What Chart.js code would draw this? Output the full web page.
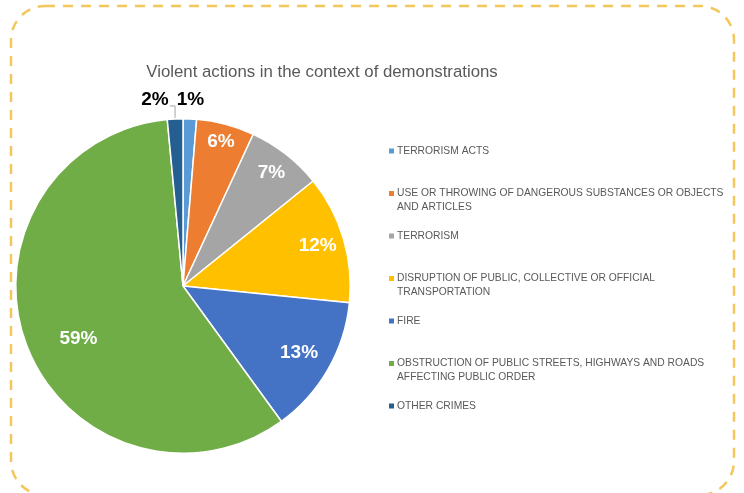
<!DOCTYPE html>
<html>
<head>
<meta charset="utf-8">
<script src="https://cdn.jsdelivr.net/npm/chart.js@4.4.0/dist/chart.umd.min.js"></script>
<style>
  body { margin: 0; background: #fff; }
  #wrap { width: 744px; height: 493px; }
</style>
</head>
<body>
<div id="wrap"><canvas id="myChart" width="744" height="493"></canvas></div>
<script>
const chartTitle = 'Violent actions in the context of demonstrations';
const categories = [
  'TERRORISM ACTS',
  'USE OR THROWING OF DANGEROUS SUBSTANCES OR OBJECTS AND ARTICLES',
  'TERRORISM',
  'DISRUPTION OF PUBLIC, COLLECTIVE OR OFFICIAL TRANSPORTATION',
  'FIRE',
  'OBSTRUCTION OF PUBLIC STREETS, HIGHWAYS AND ROADS AFFECTING PUBLIC ORDER',
  'OTHER CRIMES'
];
const shares = [1.3, 5.6, 7.3, 12.4, 13.4, 58.5, 1.5];
const sliceColors = ['#5B9BD5', '#ED7D31', '#A5A5A5', '#FFC000', '#4472C4', '#70AD47', '#255E91'];

// where the inside labels sit (fraction of radius, angle nudge in degrees)
const labelRadius = [0, 0.89, 0.86, 0.84, 0.80, 0.70, 0];
const labelNudge = [0, 0, 0, 0, 0, -6, 0];

// wrap legend text to a max width
function wrapText(ctx, text, maxW) {
  const words = text.split(' ');
  const lines = [];
  let line = '';
  words.forEach(w => {
    const test = line ? line + ' ' + w : w;
    if (ctx.measureText(test).width > maxW && line) {
      lines.push(line);
      line = w;
    } else {
      line = test;
    }
  });
  if (line) lines.push(line);
  return lines;
}

const extras = {
  id: 'extras',
  afterDraw(chart) {
    const ctx = chart.ctx;
    ctx.save();

    // dashed frame
    ctx.strokeStyle = '#F2C75C';
    ctx.lineWidth = 2.5;
    ctx.setLineDash([10, 8]);
    ctx.beginPath();
    ctx.roundRect(11, 6, 723, 489, 34);
    ctx.stroke();
    ctx.setLineDash([]);

    // title
    ctx.fillStyle = '#595959';
    ctx.font = '16.8px "Liberation Sans", Arial, sans-serif';
    ctx.textAlign = 'center';
    ctx.textBaseline = 'middle';
    ctx.fillText(chartTitle, 322, 72);

    // data labels
    const arcs = chart.getDatasetMeta(0).data;
    const outside = [];
    arcs.forEach((arc, i) => {
      const p = arc.getProps(['x', 'y', 'startAngle', 'endAngle', 'outerRadius'], true);
      const mid = (p.startAngle + p.endAngle) / 2;
      const txt = Math.round(shares[i]) + '%';
      if (shares[i] < 3) {
        const r = p.outerRadius + 16;
        outside.push({ txt, mid, p, x: p.x + Math.cos(mid) * r, y: p.y + Math.sin(mid) * r, shifted: false });
        return;
      }
      const a = mid + labelNudge[i] * Math.PI / 180;
      const r = p.outerRadius * labelRadius[i];
      ctx.font = 'bold 19px "Liberation Sans", Arial, sans-serif';
      ctx.fillStyle = '#fff';
      ctx.fillText(txt, p.x + Math.cos(a) * r, p.y + Math.sin(a) * r);
    });

    // outside labels, push the left one away if they collide
    ctx.font = 'bold 19px "Liberation Sans", Arial, sans-serif';
    outside.sort((a, b) => a.x - b.x);
    for (let k = outside.length - 2; k >= 0; k--) {
      const a = outside[k], b = outside[k + 1];
      const wa = ctx.measureText(a.txt).width, wb = ctx.measureText(b.txt).width;
      const limit = b.x - wb / 2 - 8;
      if (a.x + wa / 2 > limit) {
        a.x = limit - wa / 2;
        a.shifted = true;
      }
    }
    outside.forEach(o => {
      if (o.shifted) {
        const w = ctx.measureText(o.txt).width;
        const ex = o.p.x + Math.cos(o.mid) * (o.p.outerRadius + 1);
        const ey = o.p.y + Math.sin(o.mid) * (o.p.outerRadius + 1);
        ctx.strokeStyle = '#A6A6A6';
        ctx.lineWidth = 1;
        ctx.beginPath();
        ctx.moveTo(ex, ey);
        ctx.lineTo(ex, o.y + 3);
        ctx.lineTo(o.x + w / 2 + 1, o.y + 3);
        ctx.stroke();
      }
      ctx.fillStyle = '#000';
      ctx.fillText(o.txt, o.x, o.y - 3);
    });

    // legend
    ctx.font = '10.3px "Liberation Sans", Arial, sans-serif';
    ctx.textAlign = 'left';
    categories.forEach((c, i) => {
      const y0 = 151 + i * 42.5;
      ctx.fillStyle = sliceColors[i];
      ctx.fillRect(389, y0 - 2.5, 5, 5);
      ctx.fillStyle = '#595959';
      wrapText(ctx, c, 335).forEach((ln, j) => {
        ctx.fillText(ln, 397, y0 + j * 14);
      });
    });

    ctx.restore();
  }
};

const ctx = document.getElementById('myChart').getContext('2d');
const myChart = new Chart(ctx, {
  type: 'pie',
  data: {
    labels: categories,
    datasets: [{
      data: shares,
      backgroundColor: sliceColors,
      borderColor: '#ffffff',
      borderWidth: 1.5
    }]
  },
  options: {
    responsive: false,
    animation: false,
    layout: { padding: { left: 15, top: 118, right: 393, bottom: 39 } },
    plugins: {
      legend: { display: false },
      tooltip: { enabled: false },
      title: { display: false }
    }
  },
  plugins: [extras]
});
</script>
</body>
</html>
